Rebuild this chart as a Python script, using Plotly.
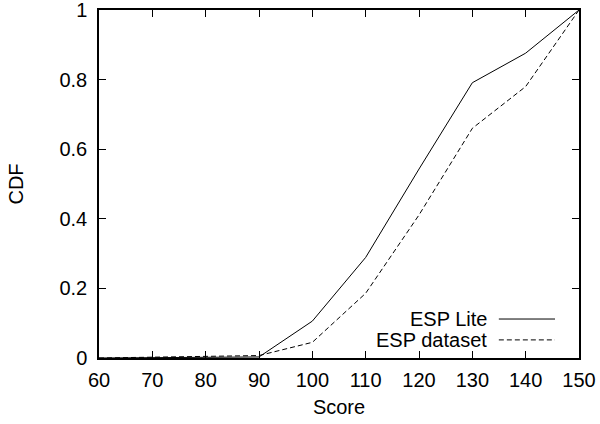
import plotly.graph_objects as go

scores = [60, 70, 80, 90, 100, 110, 120, 130, 140, 150]
esp_lite = [0.0, 0.0, 0.002, 0.003, 0.106, 0.289, 0.543, 0.791, 0.876, 1.0]
esp_dataset = [0.0, 0.002, 0.004, 0.007, 0.045, 0.186, 0.411, 0.660, 0.780, 1.0]
series_names = ["ESP Lite", "ESP dataset"]
x_ticks = [60, 70, 80, 90, 100, 110, 120, 130, 140, 150]
y_ticks = [0, 0.2, 0.4, 0.6, 0.8, 1]
y_tick_labels = ["0", "0.2", "0.4", "0.6", "0.8", "1"]

FONT = "Liberation Sans, Arial, sans-serif"
FS = 20

fig = go.Figure()
fig.add_trace(go.Scatter(x=scores, y=esp_lite, mode="lines", name=series_names[0],
                         line=dict(color="black", width=1), showlegend=False))
fig.add_trace(go.Scatter(x=scores, y=esp_dataset, mode="lines", name=series_names[1],
                         line=dict(color="black", width=1, dash="5px,3px"), showlegend=False))

axis_common = dict(showgrid=False, zeroline=False, showline=True, linecolor="black",
                   linewidth=1.5, mirror="ticks", ticks="inside", ticklen=7,
                   tickcolor="black", tickwidth=1, automargin=False,
                   ticklabeloverflow="allow",
                   tickfont=dict(family=FONT, size=FS, color="black"))

fig.update_layout(
    width=600, height=424,
    margin=dict(l=99, r=21, t=10, b=66, autoexpand=False),
    plot_bgcolor="white", paper_bgcolor="white",
    xaxis=dict(range=[60, 150], tickvals=x_ticks, ticklabelstandoff=3,
               title=dict(text="Score", font=dict(family=FONT, size=FS, color="black"), standoff=10),
               **axis_common),
    yaxis=dict(range=[0, 1], tickvals=y_ticks, ticktext=y_tick_labels, ticklabelstandoff=6,
               title=dict(text="CDF", font=dict(family=FONT, size=FS, color="black"), standoff=30),
               **axis_common),
)

# gnuplot-style key: text right-aligned, sample to the right
legend_rows = [(series_names[0], "solid", 0.112), (series_names[1], "5px,3px", 0.052)]
for name, dash, yy in legend_rows:
    fig.add_annotation(x=0.812, y=yy, xref="paper", yref="paper", text=name,
                       showarrow=False, xanchor="right", yanchor="middle",
                       font=dict(family=FONT, size=FS, color="black"))
    fig.add_shape(type="line", xref="paper", yref="paper", x0=0.833, x1=0.95,
                  y0=yy, y1=yy, line=dict(color="black", width=1, dash=dash))

fig.write_html("out.html", config={"displayModeBar": False},
               post_script="document.body.style.margin='0';document.body.style.padding='0';")
